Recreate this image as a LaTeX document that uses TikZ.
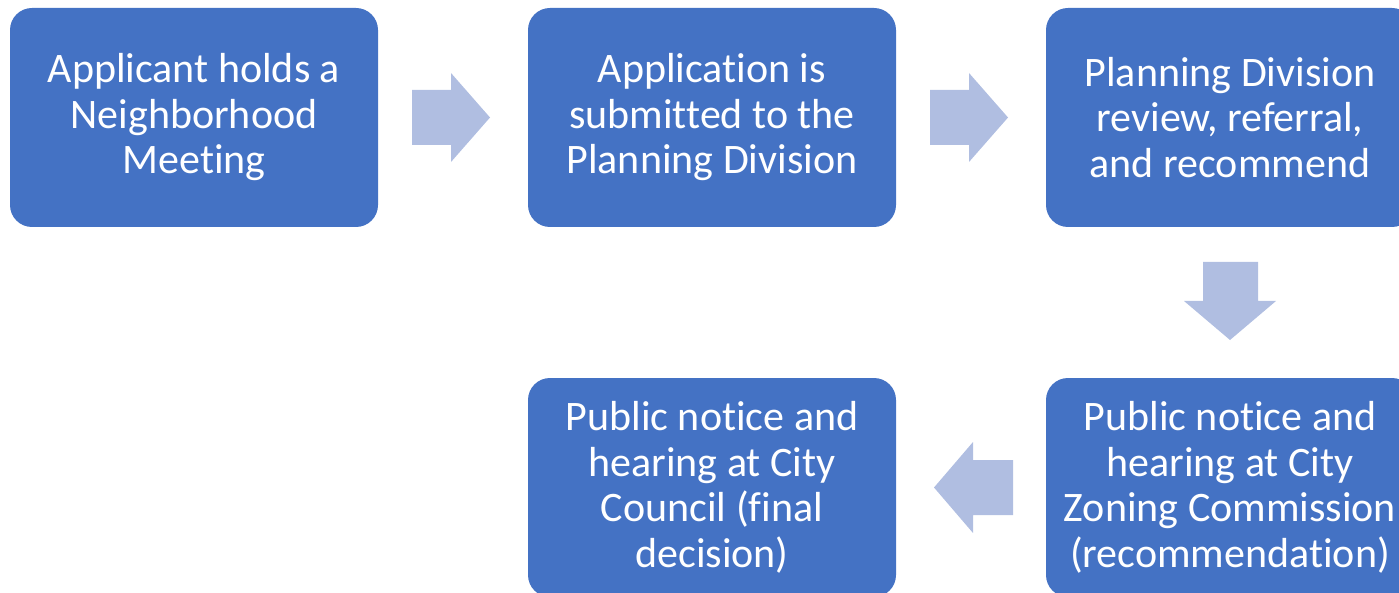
\documentclass[tikz,border=0pt]{standalone}
\usepackage{fontspec}
\setmainfont[Ligatures=NoCommon]{Carlito}
\definecolor{boxblue}{HTML}{4472C4}
\definecolor{arrowblue}{RGB}{176,190,225}
\tikzset{
  stepbox/.style={draw=none, fill=boxblue, rounded corners=22pt, minimum width=368pt,
    minimum height=219pt, text=white, align=center, inner sep=2pt,
    font=\fontsize{42}{45.5}\selectfont},
  blockarrow/.style={fill=arrowblue, draw=none}
}
\begin{document}
\begin{tikzpicture}[x=1pt,y=-1pt]
\useasboundingbox (0,0) rectangle (1399,593);
\clip (0,0) rectangle (1399,593);
\node[stepbox] (a) at (194,117.5) {Applicant holds a\\Neighborhood\\Meeting};
\node[stepbox] (b) at (712,117.5) {Application is\\submitted to the\\Planning Division};
\node[stepbox] (c) at (1230,117.5) {Planning Division\\review, referral,\\and recommend};
\node[stepbox] (d) at (1230,487.5) {Public notice and\\hearing at City\\Zoning Commission\\(recommendation)};
\node[stepbox] (e) at (712,487.5) {Public notice and\\hearing at City\\Council (final\\decision)};
% arrow a -> b
\fill[blockarrow] (412,90) -- (451,90) -- (451,73) -- (490,117.5) -- (451,162) -- (451,145) -- (412,145) -- cycle;
% arrow b -> c
\fill[blockarrow] (930,90) -- (969,90) -- (969,73) -- (1008,117.5) -- (969,162) -- (969,145) -- (930,145) -- cycle;
% arrow c -> d
\fill[blockarrow] (1203,262) -- (1258,262) -- (1258,301) -- (1276,301) -- (1230,340) -- (1184,301) -- (1203,301) -- cycle;
% arrow d -> e
\fill[blockarrow] (1013,460) -- (973,460) -- (973,442) -- (934,487.5) -- (973,533) -- (973,515) -- (1013,515) -- cycle;
\end{tikzpicture}
\end{document}
